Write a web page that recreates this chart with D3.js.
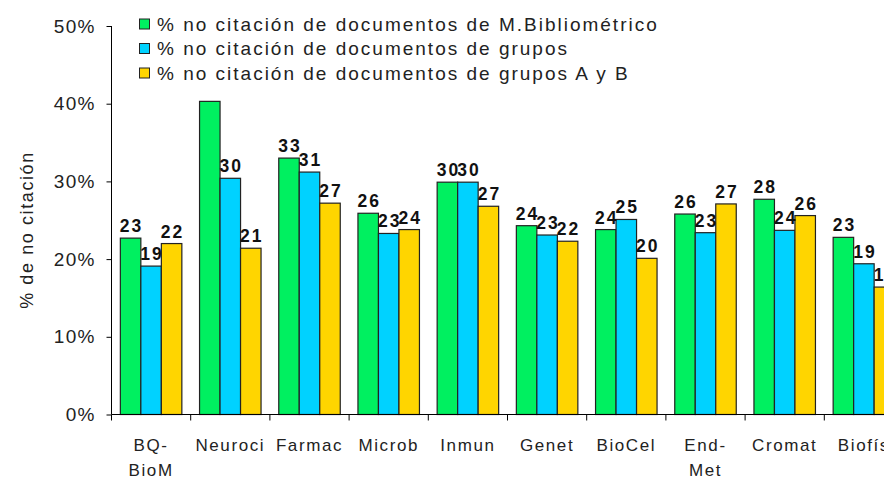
<!DOCTYPE html>
<html>
<head>
<meta charset="utf-8">
<script src="https://cdn.jsdelivr.net/npm/d3@7"></script>
<style>
  body { margin: 0; background: #fff; overflow: hidden; }
  svg { display: block; font-family: "Liberation Sans", Arial, sans-serif; }
</style>
</head>
<body>
<svg id="chart" width="884" height="477"></svg>
<script>
// datos
var categorias = ["BQ-BioM", "Neuroci", "Farmac", "Microb", "Inmun", "Genet", "BioCel", "End-Met", "Cromat", "Biofís"];
var etiquetasX = [["BQ-", "BioM"], ["Neuroci"], ["Farmac"], ["Microb"], ["Inmun"], ["Genet"], ["BioCel"], ["End-", "Met"], ["Cromat"], ["Biofís"]];
var series = [
  "% no citación de documentos de M.Bibliométrico",
  "% no citación de documentos de grupos",
  "% no citación de documentos de grupos A y B"
];
var mBibliometrico = [22.7, 40.3, 33.0, 25.9, 29.9, 24.3, 23.8, 25.8, 27.7, 22.8];
var grupos = [19.1, 30.4, 31.2, 23.3, 29.9, 23.1, 25.1, 23.4, 23.7, 19.4];
var gruposAB = [22.0, 21.4, 27.2, 23.8, 26.8, 22.3, 20.1, 27.1, 25.6, 16.4];
var ticksY = [0, 10, 20, 30, 40, 50];
var colores = ["#00f060", "#00d2ff", "#ffd500"];

var valores = [mBibliometrico, grupos, gruposAB];

var svg = d3.select("svg#chart"),
    margin = {top: 26, left: 111.5},
    width = 792,
    height = 388.5;

var g = svg.append("g")
    .attr("transform", "translate(" + margin.left + "," + margin.top + ")");

var x = d3.scaleBand()
    .domain(categorias)
    .range([0, width])
    .padding(0);

var x1 = d3.scaleBand()
    .domain(d3.range(series.length))
    .range([(x.bandwidth() - 61.5) / 2, (x.bandwidth() + 61.5) / 2]);

var y = d3.scaleLinear()
    .domain([0, 50])
    .range([height, 0]);

// eje y
var ejeY = g.append("g")
    .call(d3.axisLeft(y).tickValues(ticksY).tickFormat(function (d) { return d + "%"; }).tickSize(5).tickPadding(11));
ejeY.select(".domain").attr("d", "M0," + height + "V0").attr("stroke", "#000");
ejeY.selectAll("text")
    .attr("font-size", "19px")
    .attr("font-family", "Liberation Sans, Arial, sans-serif")
    .attr("letter-spacing", "1.2px")
    .attr("fill", "#222");

// barras
var grupo = g.selectAll(".cat")
    .data(categorias)
    .enter()
    .append("g")
    .attr("class", "cat")
    .attr("transform", function (d) { return "translate(" + x(d) + ",0)"; });

grupo.selectAll("rect")
    .data(function (d, i) {
        return valores.map(function (s, k) { return {serie: k, valor: s[i]}; });
    })
    .enter()
    .append("rect")
    .attr("x", function (d) { return x1(d.serie); })
    .attr("y", function (d) { return y(d.valor); })
    .attr("width", x1.bandwidth())
    .attr("height", function (d) { return height - y(d.valor); })
    .attr("fill", function (d) { return colores[d.serie]; })
    .attr("stroke", "#222")
    .attr("stroke-width", 1.2);

grupo.selectAll("text.valor")
    .data(function (d, i) {
        return valores.map(function (s, k) { return {serie: k, valor: s[i]}; });
    })
    .enter()
    .append("text")
    .attr("class", "valor")
    .attr("x", function (d) { return x1(d.serie) + x1.bandwidth() / 2 + 1; })
    .attr("y", function (d) { return y(d.valor) - 6; })
    .attr("text-anchor", "middle")
    .attr("font-size", "17.5px")
    .attr("font-weight", "bold")
    .attr("letter-spacing", "2px")
    .attr("fill", "#111")
    .text(function (d) { return Math.round(d.valor); });

// eje x
g.append("line")
    .attr("x1", 0).attr("x2", width)
    .attr("y1", height).attr("y2", height)
    .attr("stroke", "#000");

g.selectAll(".tickx")
    .data(categorias.concat([null]))
    .enter()
    .append("line")
    .attr("x1", function (d) { return d === null ? width : x(d); })
    .attr("x2", function (d) { return d === null ? width : x(d); })
    .attr("y1", height)
    .attr("y2", height + 6)
    .attr("stroke", "#000");

var etiquetas = g.selectAll(".etiq")
    .data(categorias)
    .enter()
    .append("text")
    .attr("class", "etiq")
    .attr("text-anchor", "middle")
    .attr("font-size", "17px")
    .attr("letter-spacing", "1.6px")
    .attr("fill", "#222");

etiquetas.selectAll("tspan")
    .data(function (d, i) {
        return etiquetasX[i].map(function (t) { return {t: t, c: d}; });
    })
    .enter()
    .append("tspan")
    .attr("x", function (d) { return x(d.c) + x.bandwidth() / 2; })
    .attr("y", function (d, j) { return height + 36.5 + j * 25; })
    .text(function (d) { return d.t; });

// titulo eje y
svg.append("text")
    .attr("transform", "translate(33,230)rotate(-90)")
    .attr("text-anchor", "middle")
    .attr("font-size", "18px")
    .attr("letter-spacing", "1.6px")
    .attr("fill", "#222")
    .text("% de no citación");

// leyenda
var leyenda = svg.append("g").attr("transform", "translate(136,10)");
leyenda.append("rect")
    .attr("x", 0).attr("y", 0)
    .attr("width", 530).attr("height", 85)
    .attr("fill", "#fff");

var item = leyenda.selectAll(".item")
    .data(series)
    .enter()
    .append("g")
    .attr("transform", function (d, i) { return "translate(0," + (i * 24.5) + ")"; });

item.append("rect")
    .attr("x", 3.5).attr("y", 9)
    .attr("width", 10).attr("height", 10)
    .attr("fill", function (d, i) { return colores[i]; })
    .attr("stroke", "#222");

item.append("text")
    .attr("x", 21)
    .attr("y", 20.5)
    .attr("font-size", "19px")
    .attr("letter-spacing", "2px")
    .attr("fill", "#222")
    .text(function (d) { return d; });
</script>
</body>
</html>
